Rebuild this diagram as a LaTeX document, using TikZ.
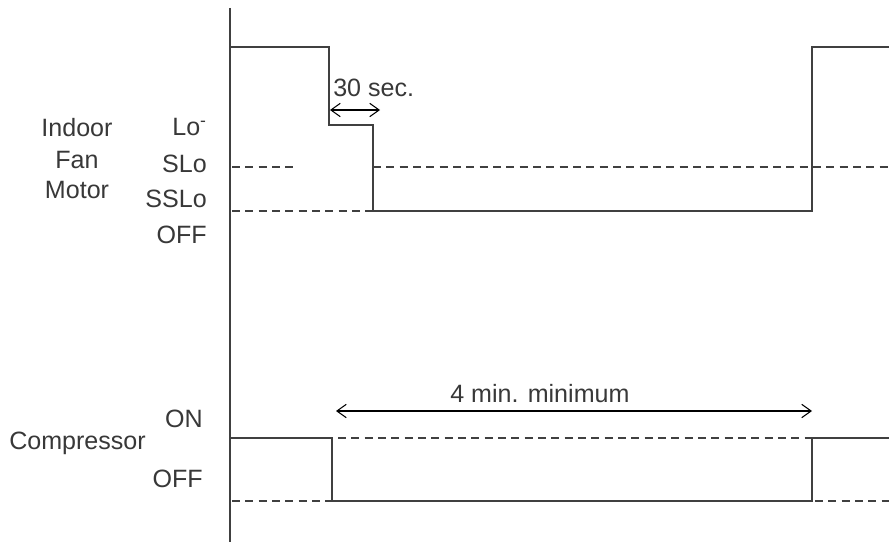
\documentclass[tikz,border=0pt]{standalone}
\usepackage{fontspec}
\setmainfont{Liberation Sans}
\usetikzlibrary{arrows.meta}
\begin{document}
\begin{tikzpicture}[x=0.75pt,y=-0.75pt,
  sig/.style={draw=black!75,line width=1.8pt,line join=miter},
  guide/.style={draw=black!75,line width=1.2pt,dash pattern=on 6pt off 4pt},
  dim/.style={draw=black,line width=0.8pt,{Straight Barb[length=7pt,width=10pt]}-{Straight Barb[length=7pt,width=10pt]}},
  lbl/.style={inner sep=0pt,text=black!78,font=\fontsize{18.8}{22}\selectfont},
  rlbl/.style={lbl,anchor=base east},
  clbl/.style={lbl,anchor=base}]
\useasboundingbox (0,0) rectangle (889,542);
% axis
\draw[sig] (230,8) -- (230,542);
% fan motor signal
\draw[guide] (232,167) -- (293,167);
\draw[guide] (373,167) -- (889,167);
\draw[guide] (232,211) -- (373,211);
\draw[sig] (230,47) -- (329,47) -- (329,125) -- (373,125) -- (373,211) -- (812,211) -- (812,47) -- (889,47);
% compressor signal
\draw[guide] (338,438) -- (812,438);
\draw[guide] (232,501) -- (332,501);
\draw[guide] (815,501) -- (889,501);
\draw[sig] (230,438) -- (332,438) -- (332,501) -- (812,501) -- (812,438) -- (889,438);
% dimension arrows
\coordinate (s30a) at (330,110);
\coordinate (s30b) at (380,110);
\draw[dim] (s30a) -- (s30b);
\node[lbl,anchor=base west] (t30) at (333,97) {30 sec.};
\coordinate (m4a) at (336,411);
\coordinate (m4b) at (812,411);
\draw[dim] (m4a) -- (m4b);
\node[lbl,anchor=base west] (t4) at (450,402) {4 min. minimum};
% fan labels
\node[clbl] (indoor) at (77,137) {Indoor};
\node[clbl] (fan) at (77,168) {Fan};
\node[clbl] (motor) at (77,198) {Motor};
\node[rlbl] (lo) at (207,135) {Lo\textsuperscript{-}};
\node[rlbl] (slo) at (207,172) {SLo};
\node[rlbl] (sslo) at (207,207) {SSLo};
\node[rlbl] (off1) at (207,243) {OFF};
% compressor labels
\node[lbl,anchor=base west] (comp) at (9,449) {Compressor};
\node[rlbl] (on) at (203,427) {ON};
\node[rlbl] (off2) at (203,487) {OFF};
\end{tikzpicture}
\end{document}
